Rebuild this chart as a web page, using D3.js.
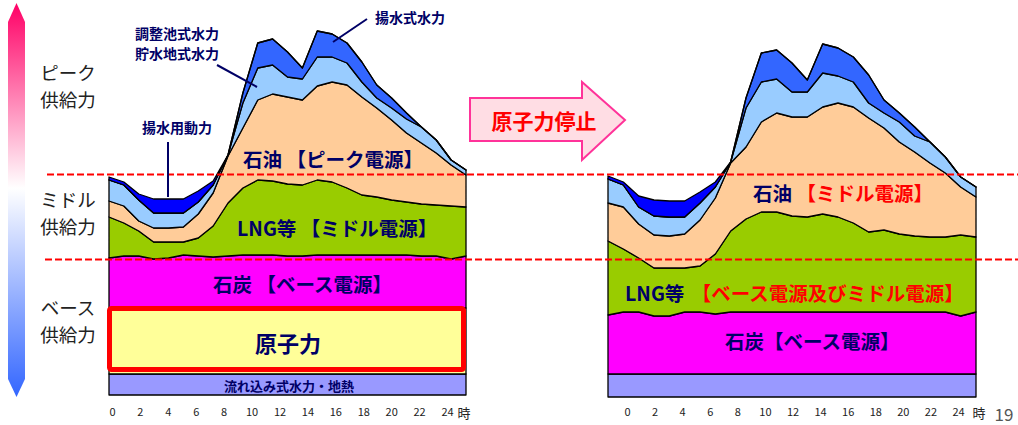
<!DOCTYPE html>
<html>
<head>
<meta charset="utf-8">
<script src="https://cdn.jsdelivr.net/npm/d3@7"></script>
<style>
  body { margin: 0; background: #fff; }
  svg { display: block; }
  text { font-family: "Noto Sans CJK JP", "Noto Sans", sans-serif; }
</style>
</head>
<body>
<svg id="chart" width="1018" height="425"></svg>
<script>
// ---- data: hourly supply by source (arbitrary units) ----
const hours = [0,1,2,3,4,5,6,7,8,9,10,11,12,13,14,15,16,17,18,19,20,21,22,23,24];
const tickHours = [0,2,4,6,8,10,12,14,16,18,20,22,24];

// with nuclear power (left)
const runoffBefore    = [10.5,10.5,10.5,10.5,10.5,10.5,10.5,10.5,10.5,10.5,10.5,10.5,10.5,10.5,10.5,10.5,10.5,10.5,10.5,10.5,10.5,10.5,10.5,10.5,10.5];
const nuclearBefore   = [33,33,33,33,33,33,33,33,33,33,33,33,33,33,33,33,33,33,33,33,33,33,33,33,33];
const coalBefore      = [25,26,26,24.5,25,26.5,26,25.5,26,26.5,26.5,26.5,26,26,26.5,26.5,26.5,26.5,26.5,26.5,26.5,26,26,24.5,26];
const lngBefore       = [20.5,16.5,12.5,8.5,8,6.5,9,15.5,26.5,33.5,37.5,37,36,35.5,37.5,36.5,33.5,30,29,27.5,26.5,26,25.5,26.5,24.5];
const oilBefore       = [8,8.5,5,7,7,7.5,12,16.5,23.5,30,40,43.5,43.5,42.5,47,50,51.5,49,44.5,40,34.5,30.5,26,20.5,16];
const reservoirBefore = [10.5,10.5,10.5,7.5,7.5,7,6,4,0.5,12.5,16,14.5,10,10.5,14.5,12.5,11,7.5,5,6,7,8,6.5,2.5,2.5];
const pumpedBefore    = [0,0,0,0,0,0,0,0,0,5,12.5,13,12.5,5.5,13,11.5,10,10,6.5,5,3,0,0,0,0];
const pumpingBefore   = [1.5,1.5,3,7,7,7,5.5,2,0,0,0,0,0,0,0,0,0,0,0,0,0,0,0,0,0];

// after nuclear shutdown (right)
const runoffAfter    = [11.5,11.5,11.5,11.5,11.5,11.5,11.5,11.5,11.5,11.5,11.5,11.5,11.5,11.5,11.5,11.5,11.5,11.5,11.5,11.5,11.5,11.5,11.5,11.5,11.5];
const coalAfter      = [29.5,31,31,29,29,31,31,30,31,31,31,31,31,31,31,31,31,31,31,31,31,31,31,29,31];
const lngAfter       = [37,31.5,27,24,24,22,23,30,40.5,46.5,50,50,48,47.5,49,47.5,44.5,40,41,39,38,37.5,37.5,40.5,37.5];
const oilAfter       = [19,21,17,16.5,16,17,23,28,34,36,45,49.5,49.5,50,53.5,57,58,57,51,46,42,37,32,24,20];
const reservoirAfter = [12,11,8.5,9.5,9.5,8.5,8.5,5.5,0.5,19.5,20,17,12.5,12.5,17,13.5,12.5,7.5,7.5,10,8,10.5,8,5,5];
const pumpedAfter    = [0,0,0,0,0,0,0,0,0,5,14.5,14.5,14.5,6,14.5,14,12.5,14,6.5,4.5,4.5,0,0,0,0];
const pumpingAfter   = [1.5,1.5,5.5,8,8,8,5.5,2.5,0,0,0,0,0,0,0,0,0,0,0,0,0,0,0,0,0];

// supply-band thresholds (peak / middle / base)
const peakThreshold = 110.75;
const middleThreshold = 68.25;

const layerColors = {
  runoff: "#9999FF", nuclear: "#FFFF99", coal: "#FF00FF", lng: "#99CC00",
  oil: "#FFCC99", reservoir: "#99CCFF", pumped: "#3366FF", pumping: "#0000FF"
};
const navy = "#000066";

const svg = d3.select("#chart");

// ---- scales ----
const xL = d3.scaleLinear().domain([0, 24]).range([109, 466]);
const yL = d3.scaleLinear().domain([0, 190]).range([395, 15]);
const tL = d3.scaleLinear().domain([0, 24]).range([112, 447]);
const xR = d3.scaleLinear().domain([0, 24]).range([608, 976]);
const yR = d3.scaleLinear().domain([0, 190]).range([397, 17]);
const tR = d3.scaleLinear().domain([0, 24]).range([627, 958]);

// ---- vertical gradient arrow (peak -> base) ----
const defs = svg.append("defs");
const grad = defs.append("linearGradient").attr("id", "supplyGrad")
  .attr("x1", 0).attr("y1", 0).attr("x2", 0).attr("y2", 1);
grad.append("stop").attr("offset", "0%").attr("stop-color", "#FF0066");
grad.append("stop").attr("offset", "47%").attr("stop-color", "#FFFFFF");
grad.append("stop").attr("offset", "100%").attr("stop-color", "#3366FF");
svg.append("path")
  .attr("d", "M16.5,3 L25,22 L25,379 L16.5,397 L8,379 L8,22 Z")
  .attr("fill", "url(#supplyGrad)");

// two-line band captions
const sideLabels = [["ピーク", "供給力", 71.5], ["ミドル", "供給力", 198.5], ["ベース", "供給力", 306.5]];
sideLabels.forEach(([a, b, y]) => {
  const t = svg.append("text")
    .attr("text-anchor", "middle").attr("dominant-baseline", "central")
    .attr("font-size", 18.5).attr("fill", "#222");
  t.append("tspan").attr("x", 68).attr("y", y).text(a);
  t.append("tspan").attr("x", 68).attr("y", y + 27).text(b);
});

// ---- stacked areas ----
function drawStack(g, rows, keys, x, y) {
  const series = d3.stack().keys(keys)(rows);
  const area = d3.area()
    .x(d => x(d.data.hour))
    .y0(d => y(d[0]))
    .y1(d => y(d[1]));
  g.selectAll("path.layer").data(series).join("path")
    .attr("class", "layer")
    .attr("d", area)
    .attr("fill", d => layerColors[d.key])
    .attr("stroke", "#000")
    .attr("stroke-width", 1.3)
    .attr("stroke-linejoin", "round");
  return series;
}

const rowsBefore = hours.map((h, i) => ({
  hour: h, runoff: runoffBefore[i], nuclear: nuclearBefore[i], coal: coalBefore[i],
  lng: lngBefore[i], oil: oilBefore[i], reservoir: reservoirBefore[i],
  pumped: pumpedBefore[i], pumping: pumpingBefore[i]
}));
const rowsAfter = hours.map((h, i) => ({
  hour: h, runoff: runoffAfter[i], coal: coalAfter[i],
  lng: lngAfter[i], oil: oilAfter[i], reservoir: reservoirAfter[i],
  pumped: pumpedAfter[i], pumping: pumpingAfter[i]
}));

const gL = svg.append("g");
drawStack(gL, rowsBefore, ["runoff","nuclear","coal","lng","oil","reservoir","pumped","pumping"], xL, yL);
const gR = svg.append("g");
drawStack(gR, rowsAfter, ["runoff","coal","lng","oil","reservoir","pumped","pumping"], xR, yR);

// nuclear band highlighted with a red frame
const nucTop = yL(runoffBefore[0] + nuclearBefore[0]);
const nucBottom = yL(runoffBefore[0]);
svg.append("rect")
  .attr("x", xL(0) + 0.5).attr("y", nucTop + 0.5)
  .attr("width", xL(24) - xL(0) - 3).attr("height", nucBottom - nucTop - 5)
  .attr("rx", 2)
  .attr("fill", "none").attr("stroke", "#FF0000").attr("stroke-width", 5);

// ---- threshold dashed lines ----
[[peakThreshold, 47], [middleThreshold, 45]].forEach(([v, x0]) => {
  svg.append("line")
    .attr("x1", x0).attr("x2", 1018)
    .attr("y1", Math.round(yL(v)) + 0.5).attr("y2", Math.round(yL(v)) + 0.5)
    .attr("stroke", "#FF0000").attr("stroke-width", 1.8)
    .attr("stroke-dasharray", "7,3");
});

// ---- hour axes ----
function hourAxis(scale, yPos, unitX) {
  const ax = svg.append("g").attr("transform", `translate(0,${yPos})`)
    .call(d3.axisBottom(scale).tickValues(tickHours).tickSize(0).tickPadding(0));
  ax.select(".domain").remove();
  ax.selectAll("text")
    .attr("font-family", "'Liberation Sans', Arial, sans-serif")
    .attr("font-size", 11).attr("fill", "#222");
  svg.append("text").attr("x", unitX).attr("y", yPos + 4)
    .attr("text-anchor", "middle").attr("dominant-baseline", "central")
    .attr("font-size", 13).attr("fill", "#222").text("時");
}
hourAxis(tL, 408, 464);
hourAxis(tR, 408, 979);

// ---- labels inside the charts ----
function label(txt, x, y, size, color, anchor) {
  return svg.append("text").attr("x", x).attr("y", y)
    .attr("text-anchor", anchor || "start").attr("dominant-baseline", "central")
    .attr("font-size", size).attr("font-weight", "bold").attr("fill", color || navy)
    .text(txt);
}
label("石油 【ピーク電源】", 243, 158, 19.5);
label("LNG等 【ミドル電源】", 237, 227, 19.5);
label("石炭 【ベース電源】", 213, 283, 19.5);
label("原子力", 288, 342, 22, navy, "middle");
label("流れ込み式水力・地熱", 289, 385, 13, navy, "middle");

// annotations with leader lines
label("揚水式水力", 375, 17, 14);
label("調整池式水力", 135, 33, 14);
label("貯水地式水力", 135, 53, 14);
label("揚水用動力", 142, 127, 14);
const leaders = [[367, 19, 333, 42], [217, 65, 257, 87], [168, 142, 168, 197]];
svg.selectAll("line.leader").data(leaders).join("line")
  .attr("class", "leader")
  .attr("x1", d => d[0]).attr("y1", d => d[1]).attr("x2", d => d[2]).attr("y2", d => d[3])
  .attr("stroke", navy).attr("stroke-width", 2);

// right chart labels (role changes in red)
const oilR = label("石油 ", 753, 192, 19.5);
oilR.append("tspan").attr("fill", "#FF0000").text("【ミドル電源】");
const lngR = label("LNG等 ", 625, 292, 19.5);
lngR.append("tspan").attr("fill", "#FF0000").attr("dx", 3).text("【ベース電源及びミドル電源】");
label("石炭【ベース電源】", 725, 340, 19.5);

// ---- transition arrow ----
svg.append("path")
  .attr("d", "M470,98 L582,98 L582,82 L625,120 L582,160 L582,141 L470,141 Z")
  .attr("fill", "#FFDDE4").attr("stroke", "#FF3399").attr("stroke-width", 2)
  .attr("stroke-linejoin", "miter");
label("原子力停止", 544, 120, 21, "#FF0000", "middle");

// page number
svg.append("text").attr("x", 1004).attr("y", 413)
  .attr("text-anchor", "middle").attr("dominant-baseline", "central")
  .attr("font-family", "'Liberation Sans', Arial, sans-serif")
  .attr("font-size", 17).attr("fill", "#555").text("19");
</script>
</body>
</html>
